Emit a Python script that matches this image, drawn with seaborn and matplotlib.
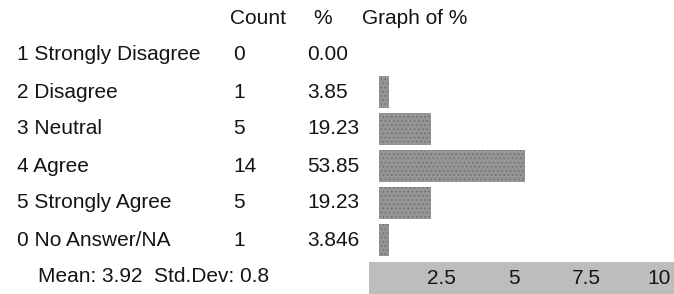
import matplotlib
matplotlib.use("Agg")
import matplotlib.pyplot as plt
import matplotlib.transforms as mtransforms
import pandas as pd
import seaborn as sns

# survey table values
answers = ['1 Strongly Disagree', '2 Disagree', '3 Neutral', '4 Agree',
           '5 Strongly Agree', '0 No Answer/NA']
counts = [0, 1, 5, 14, 5, 1]
pct_text = ['0.00', '3.85', '19.23', '53.85', '19.23', '3.846']
pct = [float(p) for p in pct_text]
headers = ['Count', '%', 'Graph of %']
scale_ticks = [2.5, 5, 7.5, 10]
scale_labels = ['2.5', '5', '7.5', '10']
summary = 'Mean: 3.92  Std.Dev: 0.8'

sns.set_style('white')
plt.rcParams['font.family'] = ['Liberation Sans', 'DejaVu Sans']
plt.rcParams['hatch.linewidth'] = 0.6
FS = 15
INK = '#141414'

W, H = 674, 294
fig = plt.figure(figsize=(W / 100, H / 100), dpi=100)


def fx(px):
    return px / W


def fy(py):
    return 1 - py / H


# bar graph area: rows centred at 55 + 37*i px, bars start at 379 px
row0, step = 55, 37
top = row0 - step / 2
bottom = row0 + step * (len(answers) - 0.5)
ax = fig.add_axes([fx(379), fy(bottom), fx(W - 379), (bottom - top) / H])
df = pd.DataFrame({'answer': answers, 'pct': pct})
sns.barplot(data=df, x='pct', y='answer', orient='h', ax=ax,
            color='#959595', width=0.84, saturation=1, linewidth=0)
for bar in ax.patches:
    bar.set_hatch('....')
    bar.set_edgecolor('#6e6e6e')
ax.set_xlim(0, (W - 379) / 2.72)
ax.set_ylim(len(answers) - 0.5, -0.5)
ax.set_axis_off()

# table columns
tr = mtransforms.blended_transform_factory(fig.transFigure, ax.transData)
for i, (a, c, p) in enumerate(zip(answers, counts, pct_text)):
    ax.text(fx(17), i, a, transform=tr, ha='left', va='center', fontsize=FS, color=INK)
    ax.text(fx(233), i, str(c), transform=tr, ha='left', va='center', fontsize=FS, color=INK)
    ax.text(fx(307), i, p, transform=tr, ha='left', va='center', fontsize=FS, color=INK)

for h, x in zip(headers, [230, 313, 362]):
    fig.text(fx(x), fy(18), h, ha='left', va='center', fontsize=FS, color=INK)

fig.text(fx(38), fy(277), summary, ha='left', va='center', fontsize=FS, color=INK)

# scale strip at the bottom
sx = fig.add_axes([fx(369), 0, fx(W - 369), (H - 262) / H])
sx.set_facecolor('#bdbdbd')
sx.set_xlim(0, (W - 369) / 29.0)
sx.set_ylim(0, 1)
for v, lab in zip(scale_ticks, scale_labels):
    sx.text(v, 0.5, lab, ha='center', va='center', fontsize=FS, color=INK)
sx.set_xticks([])
sx.set_yticks([])
for s in sx.spines.values():
    s.set_visible(False)

fig.savefig('out.png', dpi=100)
